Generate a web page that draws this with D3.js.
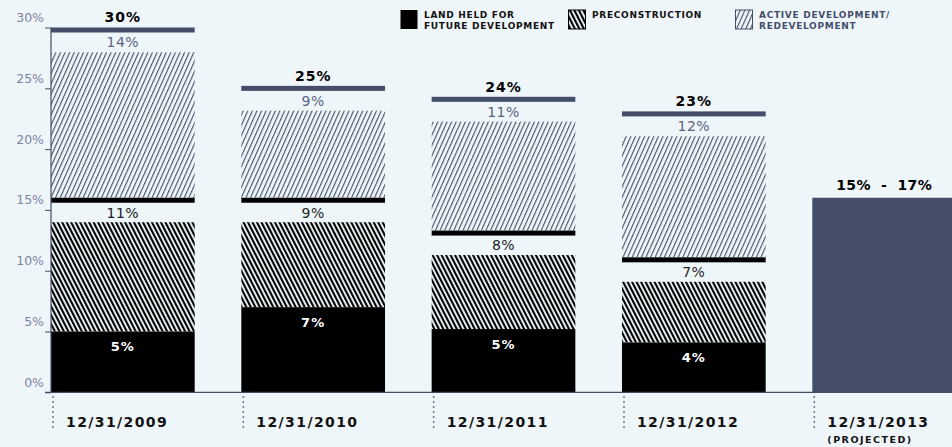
<!DOCTYPE html>
<html>
<head>
<meta charset="utf-8">
<script src="https://cdn.jsdelivr.net/npm/d3@7"></script>
<style>
  html, body { margin: 0; padding: 0; background: #eff6fa; }
  svg { display: block; }
  text { font-family: "DejaVu Sans", sans-serif; }
</style>
</head>
<body>
<script>
// categories (period ends) and the sub label under the projected one
var categories = ["12/31/2009", "12/31/2010", "12/31/2011", "12/31/2012", "12/31/2013"],
    subLabels = ["", "", "", "", "(PROJECTED)"];

// stacked series, in percent
var landHeld = [5.0, 7.0, 5.2, 4.1],
    preconstruction = [11.0, 9.0, 8.1, 7.0],
    activeDev = [14.0, 9.2, 11.0, 12.0];

// projected range for the last period
var projectedRange = [15, 17];

var yTicks = [0, 5, 10, 15, 20, 25, 30];

var legendLabels = [
    ["LAND HELD FOR", "FUTURE DEVELOPMENT"],
    ["PRECONSTRUCTION"],
    ["ACTIVE DEVELOPMENT/", "REDEVELOPMENT"]
];

var width = 952,
    height = 447,
    slate = "#444e68",
    axisGrey = "#7b84a0";

var svg = d3.select("body").append("svg")
    .attr("width", width)
    .attr("height", height);

// hatch patterns
var defs = svg.append("defs");

defs.append("pattern")
    .attr("id", "precon")
    .attr("patternUnits", "userSpaceOnUse")
    .attr("width", 4)
    .attr("height", 10)
    .attr("patternTransform", "rotate(-27)")
    .append("rect")
    .attr("width", 2.1)
    .attr("height", 10)
    .attr("fill", "#000");

defs.append("pattern")
    .attr("id", "active")
    .attr("patternUnits", "userSpaceOnUse")
    .attr("width", 4.2)
    .attr("height", 10)
    .attr("patternTransform", "rotate(24)")
    .append("rect")
    .attr("width", 1.1)
    .attr("height", 10)
    .attr("fill", slate);

var x = d3.scaleBand()
    .domain(categories)
    .range([51, 956])
    .paddingInner(0.245)
    .paddingOuter(0);

var y = d3.scaleLinear()
    .domain([0, 30])
    .range([392.3, 27.5]);

// build stacked rows
var rows = landHeld.map(function (d, i) {
    var a = landHeld[i],
        b = a + preconstruction[i],
        c = b + activeDev[i];
    return {cat: categories[i], land: a, precon: preconstruction[i], active: activeDev[i], y1: a, y2: b, y3: c};
});

var bars = svg.append("g").selectAll("g.bar")
    .data(rows)
    .enter().append("g")
    .attr("class", "bar")
    .attr("transform", function (d) { return "translate(" + x(d.cat) + ",0)"; });

var bw = x.bandwidth();

// land held for future development
bars.append("rect")
    .attr("y", function (d) { return y(d.y1); })
    .attr("width", bw)
    .attr("height", function (d) { return y(0) - y(d.y1); })
    .attr("fill", "#000");

bars.append("text")
    .attr("x", bw / 2)
    .attr("y", function (d) { return y(d.y1) + 15; })
    .attr("dy", "0.35em")
    .attr("text-anchor", "middle")
    .attr("fill", "#fff")
    .style("font-weight", "bold")
    .style("font-size", "13px")
    .style("letter-spacing", "1px")
    .text(function (d) { return Math.round(d.land) + "%"; });

// preconstruction
bars.append("rect")
    .attr("y", function (d) { return y(d.y2) + 24.5; })
    .attr("width", bw)
    .attr("height", function (d) { return y(d.y1) - y(d.y2) - 24.5; })
    .attr("fill", "url(#precon)");

bars.append("rect")
    .attr("y", function (d) { return y(d.y2); })
    .attr("width", bw)
    .attr("height", 5)
    .attr("fill", "#000");

bars.append("text")
    .attr("x", bw / 2)
    .attr("y", function (d) { return y(d.y2) + 15; })
    .attr("dy", "0.35em")
    .attr("text-anchor", "middle")
    .attr("fill", "#222")
    .style("font-size", "14px")
    .style("letter-spacing", "0.5px")
    .text(function (d) { return Math.round(d.precon) + "%"; });

// active development / redevelopment
bars.append("rect")
    .attr("y", function (d) { return y(d.y3) + 24.8; })
    .attr("width", bw)
    .attr("height", function (d) { return y(d.y2) - y(d.y3) - 24.8; })
    .attr("fill", "url(#active)");

bars.append("rect")
    .attr("y", function (d) { return y(d.y3); })
    .attr("width", bw)
    .attr("height", 5)
    .attr("fill", slate);

bars.append("text")
    .attr("x", bw / 2)
    .attr("y", function (d) { return y(d.y3) + 15; })
    .attr("dy", "0.35em")
    .attr("text-anchor", "middle")
    .attr("fill", "#5a6482")
    .style("font-size", "14px")
    .style("letter-spacing", "0.5px")
    .text(function (d) { return Math.round(d.active) + "%"; });

// totals
bars.append("text")
    .attr("x", bw / 2)
    .attr("y", function (d) { return y(d.y3) - 10; })
    .attr("dy", "0.35em")
    .attr("text-anchor", "middle")
    .attr("fill", "#000")
    .style("font-weight", "bold")
    .style("font-size", "14px")
    .style("letter-spacing", "1px")
    .text(function (d) { return Math.round(d.y3) + "%"; });

// projected bar
var mid = (projectedRange[0] + projectedRange[1]) / 2,
    lastCat = categories[categories.length - 1];

svg.append("rect")
    .attr("x", x(lastCat))
    .attr("y", y(mid))
    .attr("width", bw)
    .attr("height", y(0) - y(mid))
    .attr("fill", slate);

svg.append("text")
    .attr("x", x(lastCat) + bw / 2)
    .attr("y", y(mid) - 13)
    .attr("dy", "0.35em")
    .attr("text-anchor", "middle")
    .attr("fill", "#000")
    .style("font-weight", "bold")
    .style("font-size", "14px")
    .style("letter-spacing", "0.3px")
    .style("white-space", "pre")
    .text(projectedRange[0] + "%  -  " + projectedRange[1] + "%");

// y axis
var yAxis = svg.append("g")
    .attr("transform", "translate(51,0)")
    .call(d3.axisLeft(y).tickValues(yTicks).tickSize(6).tickFormat(function (d) { return d + "%"; }));

yAxis.select(".domain")
    .attr("d", "M0," + y(30) + "V" + y(0))
    .attr("stroke", slate)
    .attr("stroke-width", 1.2);
yAxis.selectAll(".tick line").attr("stroke", slate);
yAxis.selectAll(".tick text")
    .attr("x", -7)
    .attr("y", -10)
    .attr("fill", axisGrey)
    .style("font-family", "DejaVu Sans, sans-serif")
    .style("font-size", "12.5px");

// x baseline
svg.append("line")
    .attr("x1", 45)
    .attr("x2", width)
    .attr("y1", y(0))
    .attr("y2", y(0))
    .attr("stroke", slate)
    .attr("stroke-width", 1.2);

// x labels with dotted guides
var xl = svg.append("g").selectAll("g")
    .data(categories)
    .enter().append("g")
    .attr("transform", function (d) { return "translate(" + (x(d) + 2) + ",0)"; });

xl.append("line")
    .attr("y1", y(0) + 4)
    .attr("y2", 429)
    .attr("stroke", slate)
    .attr("stroke-width", 1.5)
    .attr("stroke-dasharray", "1.5,3.5");

xl.append("text")
    .attr("x", 13)
    .attr("y", 427)
    .attr("fill", "#111")
    .style("font-weight", "bold")
    .style("font-size", "14px")
    .style("letter-spacing", "1.4px")
    .text(function (d) { return d; });

xl.append("text")
    .attr("x", 13)
    .attr("y", 443)
    .attr("fill", "#111")
    .style("font-weight", "bold")
    .style("font-size", "9.5px")
    .style("letter-spacing", "1.5px")
    .text(function (d, i) { return subLabels[i]; });

// legend
var legendX = [400, 568, 735],
    legendFill = ["#000", "url(#precon)", "url(#active)"],
    legendText = ["#111", "#111", slate];

var lg = svg.append("g").selectAll("g")
    .data(legendLabels)
    .enter().append("g")
    .attr("transform", function (d, i) { return "translate(" + legendX[i] + ",0)"; });

lg.append("rect")
    .attr("x", 0.5)
    .attr("y", 10)
    .attr("width", 17)
    .attr("height", 19)
    .attr("fill", function (d, i) { return legendFill[i]; })
    .attr("stroke", function (d, i) { return i === 2 ? slate : "#000"; })
    .attr("stroke-width", function (d, i) { return i === 0 ? 0 : 1; });

lg.append("text")
    .attr("x", 24)
    .attr("y", 17.5)
    .attr("fill", function (d, i) { return legendText[i]; })
    .style("font-weight", "bold")
    .style("font-size", "9px")
    .style("letter-spacing", "0.7px")
    .selectAll("tspan")
    .data(function (d) { return d; })
    .enter().append("tspan")
    .attr("x", 24)
    .attr("dy", function (d, i) { return i === 0 ? 0 : 11.5; })
    .text(function (d) { return d; });
</script>
</body>
</html>
